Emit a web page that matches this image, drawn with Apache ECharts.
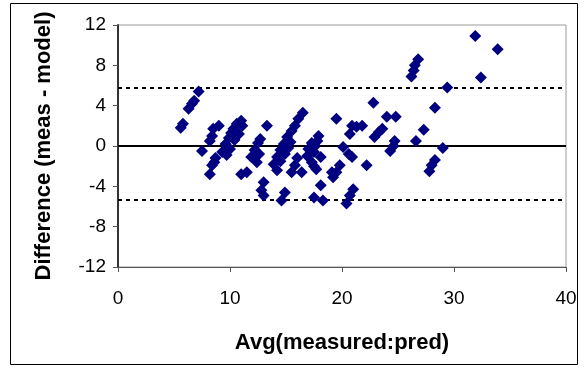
<!DOCTYPE html>
<html><head><meta charset="utf-8">
<script src="https://cdn.jsdelivr.net/npm/echarts@6/dist/echarts.min.js"></script>
<style>html,body{margin:0;padding:0;background:#fff}#c{width:588px;height:370px}</style>
</head><body><div id="c"></div>
<script>
// Data
const avgValues = [5.6,5.8,6.3,6.6,6.8,7.2,7.5,8.2,8.4,8.2,8.6,8.4,8.7,8.5,9.0,
  9.3,9.6,9.9,10.1,10.3,10.6,11.0,11.1,10.0,9.7,10.4,10.8,
  11.0,11.5,11.9,12.2,12.5,12.7,12.4,12.6,13.3,13.0,12.8,13.0,
  13.9,14.2,14.5,14.8,15.1,15.5,15.8,16.1,16.5,14.2,14.5,14.9,15.2,15.4,
  14.9,14.6,15.5,15.8,16.0,16.4,16.9,17.0,17.3,
  17.9,17.8,17.6,17.5,17.3,17.5,17.7,18.1,18.1,17.5,18.3,
  19.5,20.9,21.8,20.7,21.3,20.1,20.6,20.9,19.8,19.5,19.2,19.1,
  22.2,22.8,21.0,20.7,20.4,22.9,23.3,23.6,24.0,24.8,24.3,24.6,24.7,
  26.2,26.4,26.5,26.8,26.6,27.3,28.3,29.4,29.0,28.3,28.0,27.8,
  31.9,33.9,32.4];
const diffValues = [1.8,2.2,3.7,4.2,4.5,5.4,-0.5,0.5,1.0,-2.8,-1.6,-1.9,-1.2,1.7,2.0,
  -0.6,0.2,0.8,1.3,1.7,2.2,2.5,2.0,-0.3,-0.9,0.6,1.2,
  -2.8,-2.6,-1.1,-0.4,0.3,0.7,-1.6,-0.8,2.0,-3.6,-4.4,-4.9,
  -1.8,-1.1,-0.4,0.2,0.9,1.5,2.0,2.7,3.3,-2.4,-1.5,-0.8,-0.2,0.4,
  -4.6,-5.4,-2.6,-1.9,-1.2,-2.6,-1.0,-0.3,0.3,
  1.0,0.5,0.0,-0.6,-1.6,-2.0,-2.3,-1.1,-3.9,-5.1,-5.4,
  2.7,2.0,2.0,1.2,1.9,-0.1,-0.8,-1.1,-1.9,-2.6,-3.1,-2.6,
  -1.9,4.3,-4.3,-4.9,-5.7,0.9,1.4,1.7,2.9,2.9,-0.5,0.0,0.5,
  6.9,7.5,8.0,8.6,0.5,1.6,3.8,5.8,-0.2,-1.4,-1.9,-2.5,
  10.9,9.6,6.8];
const meanLine = 0;
const upperLimit = 5.75;
const lowerLimit = -5.35;
const xTicks = [0,10,20,30,40];
const yTicks = [-12,-8,-4,0,4,8,12];
const xTitle = 'Avg(measured:pred)';
const yTitle = 'Difference (meas - model)';

const points = avgValues.map((x,i)=>[x, diffValues[i]]);
const chart = echarts.init(document.getElementById('c'), null, {renderer:'canvas'});
const FONT = 'Liberation Sans, Arial, sans-serif';
chart.setOption({
  animation:false,
  backgroundColor:'#fff',
  graphic:[{type:'rect', shape:{x:10.5,y:3.5,width:567,height:361}, style:{fill:'none',stroke:'#000',lineWidth:1}, z:-1}],
  grid:{left:118,right:22,top:25,bottom:103,show:true,borderColor:'#999',borderWidth:1,backgroundColor:'#fff'},
  xAxis:{type:'value',min:xTicks[0],max:xTicks[xTicks.length-1],interval:10,
    name:xTitle,nameLocation:'middle',nameGap:65,
    nameTextStyle:{fontFamily:FONT,fontWeight:'bold',fontSize:22,color:'#000'},
    axisLine:{onZero:false,lineStyle:{color:'#555',width:1}},
    axisTick:{show:true,length:5,lineStyle:{color:'#555'}},
    axisLabel:{fontFamily:FONT,fontSize:19,color:'#000',margin:22},
    splitLine:{show:false}},
  yAxis:{type:'value',min:yTicks[0],max:yTicks[yTicks.length-1],interval:4,
    name:yTitle,nameLocation:'middle',nameGap:63,
    nameTextStyle:{fontFamily:FONT,fontWeight:'bold',fontSize:22,color:'#000'},
    axisLine:{show:true,onZero:false,lineStyle:{color:'#333',width:2}},
    axisTick:{show:true,length:5,lineStyle:{color:'#555'}},
    axisLabel:{fontFamily:FONT,fontSize:19,color:'#000',margin:12},
    splitLine:{show:false}},
  series:[{
    type:'scatter',data:points,symbol:'diamond',symbolSize:12,
    itemStyle:{color:'#000080',opacity:1},
    markLine:{silent:true,symbol:'none',label:{show:false},z:1,
      data:[
        {yAxis:meanLine,lineStyle:{color:'#000',width:2,type:'solid'}},
        {yAxis:upperLimit,lineStyle:{color:'#000',width:2,type:[4,4]}},
        {yAxis:lowerLimit,lineStyle:{color:'#000',width:2,type:[4,4]}}
      ]}
  }]
});
</script></body></html>
